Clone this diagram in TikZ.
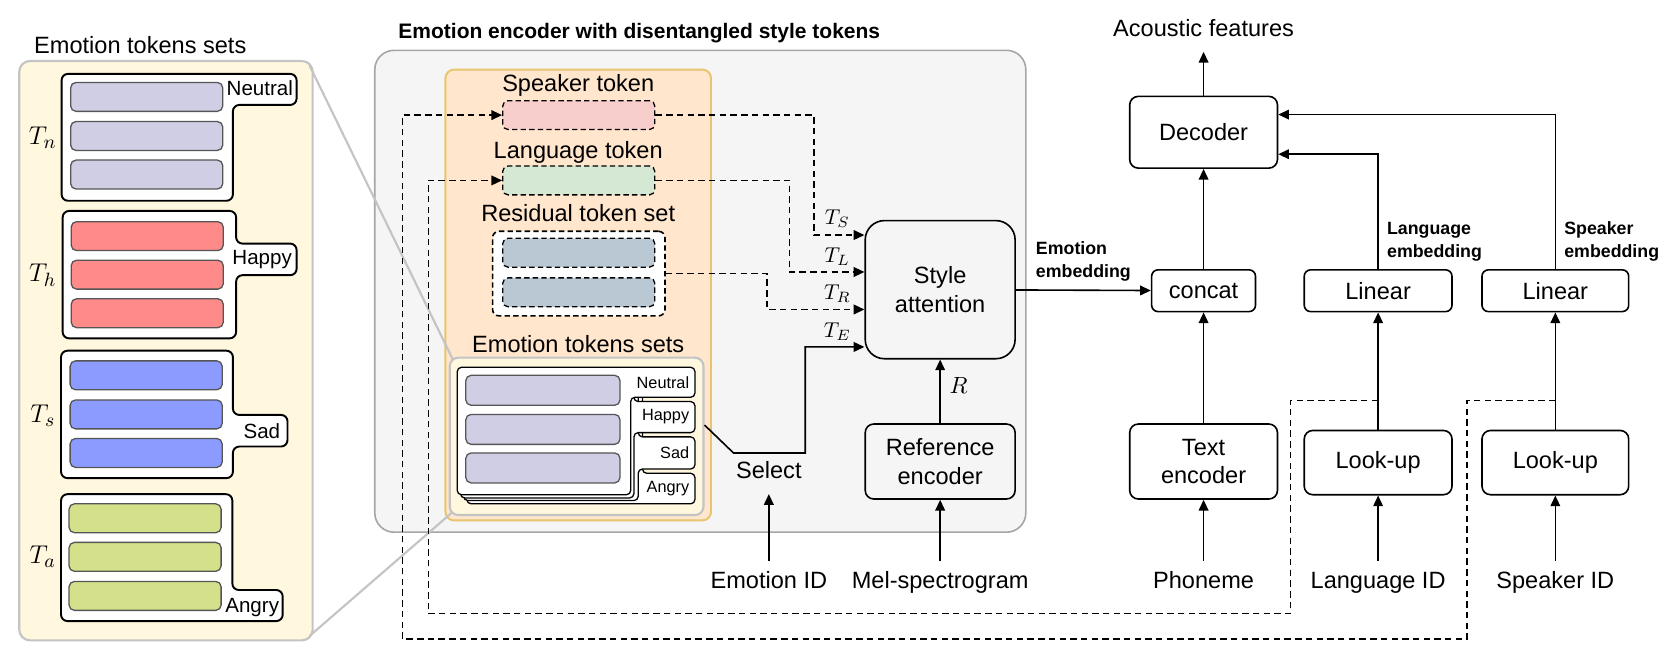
\documentclass[tikz,border=0pt]{standalone}
\usepackage{amsmath}
\usepackage{fontspec}
\setmainfont{Liberation Sans}
\usetikzlibrary{arrows.meta,positioning}

\definecolor{panelgray}{HTML}{F5F5F5}
\definecolor{panelline}{HTML}{A6A6A6}
\definecolor{tokorange}{HTML}{FFE6CC}
\definecolor{tokgold}{HTML}{E8C46E}
\definecolor{setcream}{HTML}{FFF7DE}
\definecolor{setline}{HTML}{C4C4C4}
\definecolor{neutralc}{HTML}{D0CEE4}
\definecolor{happyc}{HTML}{FF8A8A}
\definecolor{sadc}{HTML}{8C9BFF}
\definecolor{angryc}{HTML}{D4E18A}
\definecolor{speakc}{HTML}{F8CECC}
\definecolor{langc}{HTML}{D5E8D4}
\definecolor{resc}{HTML}{BAC8D3}
\definecolor{tokline}{HTML}{555555}

\begin{document}
\begin{tikzpicture}[x=0.5pt, y=-0.5pt,
  font=\fontsize{11}{13.5}\selectfont,
  blk/.style={rectangle, draw, rounded corners=4pt, line width=0.75pt, align=center},
  tok/.style={rectangle, draw=tokline, rounded corners=2.5pt, line width=0.6pt, minimum width=71pt, minimum height=13.5pt, inner sep=0pt},
  dtok/.style={tok, draw=black, dash pattern=on 2.5pt off 1.5pt},
  grp/.style={draw, fill=white, line width=0.9pt, rounded corners=3pt},
  crd/.style={grp, line width=0.6pt, rounded corners=2pt},
  lbl/.style={inner sep=5pt, text height=8pt, text depth=2pt},
  tab/.style={anchor=east, inner sep=1pt, font=\fontsize{9.6}{11}\selectfont},
  smalltab/.style={anchor=east, inner sep=1pt, font=\fontsize{7.6}{9}\selectfont},
  emb/.style={font=\fontsize{8.3}{10.5}\selectfont\bfseries, align=left, inner sep=0pt},
  arr/.style={-{Triangle[length=5pt,width=4.5pt]}, line width=0.75pt},
  dline/.style={arr, dash pattern=on 3pt off 2pt},
  zoomline/.style={draw=setline, line width=1pt}]
\useasboundingbox (0,0) rectangle (1568,616);

\node[rectangle, draw=setline, fill=setcream, line width=1pt, rounded corners=5pt, minimum width=137pt, minimum height=270.5pt] (lpanel) at (155,327.5) {};
\node (ltitle) at (131,42) {Emotion tokens sets};

\draw[grp] (57.5,69) -- (277,69) -- (277,98) -- (217.5,98) -- (217.5,187.5) -- (57.5,187.5) -- cycle;
\draw[grp] (58.5,197) -- (220.5,197) -- (220.5,227.5) -- (277,227.5) -- (277,257) -- (220.5,257) -- (220.5,316) -- (58.5,316) -- cycle;
\draw[grp] (57,327.5) -- (217.5,327.5) -- (217.5,387.5) -- (268.5,387.5) -- (268.5,417) -- (217.5,417) -- (217.5,446.5) -- (57,446.5) -- cycle;
\draw[grp] (57,461.5) -- (217,461.5) -- (217,551) -- (264,551) -- (264,580) -- (57,580) -- cycle;
\foreach \y [count=\i] in {90.5,127,163} \node[tok, fill=neutralc] (tn\i) at (137,\y) {};
\foreach \y [count=\i] in {220.5,256.5,292.5} \node[tok, fill=happyc] (th\i) at (137.5,\y) {};
\foreach \y [count=\i] in {350.5,387,423} \node[tok, fill=sadc] (ts\i) at (136.5,\y) {};
\foreach \y [count=\i] in {484,520,556.5} \node[tok, fill=angryc] (ta\i) at (135.5,\y) {};
\node[tab] (lneu) at (276,82) {Neutral};
\node[tab] (lhap) at (275,242) {Happy};
\node[tab] (lsad) at (264,403) {Sad};
\node[tab] (lang) at (263,567) {Angry};
\node[font=\fontsize{13}{15}\selectfont] (tnlbl) at (40,129) {$T_n$};
\node[font=\fontsize{13}{15}\selectfont] (thlbl) at (40,257) {$T_h$};
\node[font=\fontsize{13}{15}\selectfont] (tslbl) at (40,388) {$T_s$};
\node[font=\fontsize{13}{15}\selectfont] (talbl) at (40,520) {$T_a$};

\node[rectangle, draw=panelline, fill=panelgray, line width=0.75pt, rounded corners=9pt, minimum width=304pt, minimum height=225pt] (encpanel) at (654,272) {};
\node[font=\fontsize{9.8}{12}\selectfont\bfseries] (enctitle) at (597,31) {Emotion encoder with disentangled style tokens};
\node[rectangle, draw=tokgold, fill=tokorange, line width=0.9pt, rounded corners=4pt, minimum width=124pt, minimum height=210.5pt] (tokpanel) at (540,275.5) {};

\node (sptxt) at (540,80) {Speaker token};
\node[dtok, fill=speakc] (sptok) at (540.5,107.5) {};
\node (lgtxt) at (540,142) {Language token};
\node[dtok, fill=langc] (lgtok) at (540.5,168.5) {};
\node (restxt) at (540,199) {Residual token set};
\node[rectangle, draw, fill=white, dash pattern=on 2.5pt off 1.5pt, rounded corners=3pt, line width=0.75pt, minimum width=80.5pt, minimum height=39.5pt] (resbox) at (540.5,255.5) {};
\node[dtok, fill=resc] (res1) at (540.5,236) {};
\node[dtok, fill=resc] (res2) at (540.5,273) {};
\node (emotxt) at (540,321) {Emotion tokens sets};

\draw[zoomline] ([xshift=-2pt,yshift=-2.5pt]lpanel.north east) -- (424,338);
\draw[zoomline] ([xshift=-2pt,yshift=2.5pt]lpanel.south east) -- (424,477);

\node[rectangle, draw=setline, fill=setcream, line width=1pt, rounded corners=4pt, minimum width=118.5pt, minimum height=73.5pt] (emoset) at (538.5,407.5) {};
\draw[crd] (436,352) -- (600,352) -- (600,442) -- (649,442) -- (649,470.5) -- (436,470.5) -- cycle;
\draw[crd] (433,349) -- (596,349) -- (596,408) -- (649,408) -- (649,438) -- (596,438) -- (596,467.5) -- (433,467.5) -- cycle;
\draw[crd] (430,346) -- (592,346) -- (592,375) -- (649,375) -- (649,404) -- (592,404) -- (592,465) -- (430,465) -- cycle;
\draw[crd] (427,343) -- (649,343) -- (649,371) -- (589,371) -- (589,462) -- (427,462) -- cycle;
\foreach \y [count=\i] in {364.5,401,437} \node[tok, fill=neutralc, minimum width=72pt, minimum height=14pt] (te\i) at (507,\y) {};
\node[smalltab] (sneu) at (646,357) {Neutral};
\node[smalltab] (shap) at (646,389.5) {Happy};
\node[smalltab] (ssad) at (646,423) {Sad};
\node[smalltab] (sang) at (646,456) {Angry};

\node[blk, rounded corners=9pt, minimum width=70pt, minimum height=64.5pt] (styatt) at (878,270.5) {Style\\attention};
\node[blk, minimum width=70pt, minimum height=35pt] (refenc) at (878,431) {Reference\\encoder};
\node[lbl] (select) at (718,441) {Select};
\node[lbl] (emoid) at (718,544) {Emotion ID};
\node[lbl] (mel) at (878,544) {Mel-spectrogram};
\node[font=\fontsize{10}{12}\selectfont] (tslab) at (782,204) {$T_S$};
\node[font=\fontsize{10}{12}\selectfont] (tllab) at (782,240) {$T_L$};
\node[font=\fontsize{10}{12}\selectfont] (trlab) at (782,274) {$T_R$};
\node[font=\fontsize{10}{12}\selectfont] (telab) at (782,310) {$T_E$};

\node[blk, minimum width=69pt, minimum height=33.5pt] (dec) at (1124,123.5) {Decoder};
\node[lbl] (acoustic) at (1124,28) {Acoustic features};
\node[blk, rounded corners=3pt, minimum width=48.5pt, minimum height=19.5pt] (concat) at (1124,271.5) {concat};
\node[blk, minimum width=69pt, minimum height=35pt] (txtenc) at (1124,431) {Text\\encoder};
\node[lbl] (phon) at (1124,544) {Phoneme};
\node[blk, rounded corners=3pt, minimum width=69pt, minimum height=19.5pt] (langlin) at (1287,271.5) {Linear};
\node[blk, minimum width=69pt, minimum height=30pt] (langlook) at (1287,432) {Look-up};
\node[lbl] (langid) at (1287,544) {Language ID};
\node[blk, rounded corners=3pt, minimum width=68.5pt, minimum height=19.5pt] (spklin) at (1452.5,271.5) {Linear};
\node[blk, minimum width=68.5pt, minimum height=30pt] (spklook) at (1452.5,432) {Look-up};
\node[lbl] (spkid) at (1452.5,544) {Speaker ID};
\node[emb, anchor=south west] (langemb) at ([xshift=4pt,yshift=3.5pt]langlin.north) {Language\\embedding};
\node[emb, anchor=south west] (spkemb) at ([xshift=4pt,yshift=3.5pt]spklin.north) {Speaker\\embedding};
\coordinate (lgj) at (1287,374);
\coordinate (spkj) at (1452.5,374);

\draw[dline] (sptok.east) -| ([xshift=-23.5pt,yshift=25.5pt]styatt.west) -- ([yshift=25.5pt]styatt.west);
\draw[dline] (lgtok.east) -| ([xshift=-35pt,yshift=8.25pt]styatt.west) -- ([yshift=8.25pt]styatt.west);
\draw[dline] (resbox.east) -| ([xshift=-45.5pt,yshift=-9.25pt]styatt.west) -- ([yshift=-9.25pt]styatt.west);
\draw[arr] ([yshift=5.25pt]emoset.east) -- ++(27,26) -- ++(67,0) |- ([yshift=-26.75pt]styatt.west);
\draw[arr] (emoid) -- (select);
\draw[arr] (mel) -- (refenc);
\draw[arr] (refenc) -- node[right=4pt, inner sep=0pt, pos=0.6] (rlab) {$R$} (styatt);
\draw[arr] (styatt) -- node[emb, above=4pt] (emoemb) {Emotion\\embedding} (concat);

\draw[arr] (dec) -- (acoustic);
\draw[arr] (concat) -- (dec);
\draw[arr] (txtenc) -- (concat);
\draw[arr] (phon) -- (txtenc);
\draw[arr] (langid) -- (langlook);
\draw[arr] (langlook) -- (langlin);
\draw[arr] (spkid) -- (spklook);
\draw[arr] (spklook) -- (spklin);
\draw[arr] (langlin.north) |- ([yshift=-10.25pt]dec.east);
\draw[arr] (spklin.north) |- ([yshift=8.25pt]dec.east);

\draw[dline] (spkj) -- ++(-82.5,0) -- ++(0,223) -- ++(-994,0) |- (sptok.west);
\draw[dline] (lgj) -- ++(-82,0) -- ++(0,199) -- ++(-805,0) |- (lgtok.west);
\end{tikzpicture}
\end{document}
